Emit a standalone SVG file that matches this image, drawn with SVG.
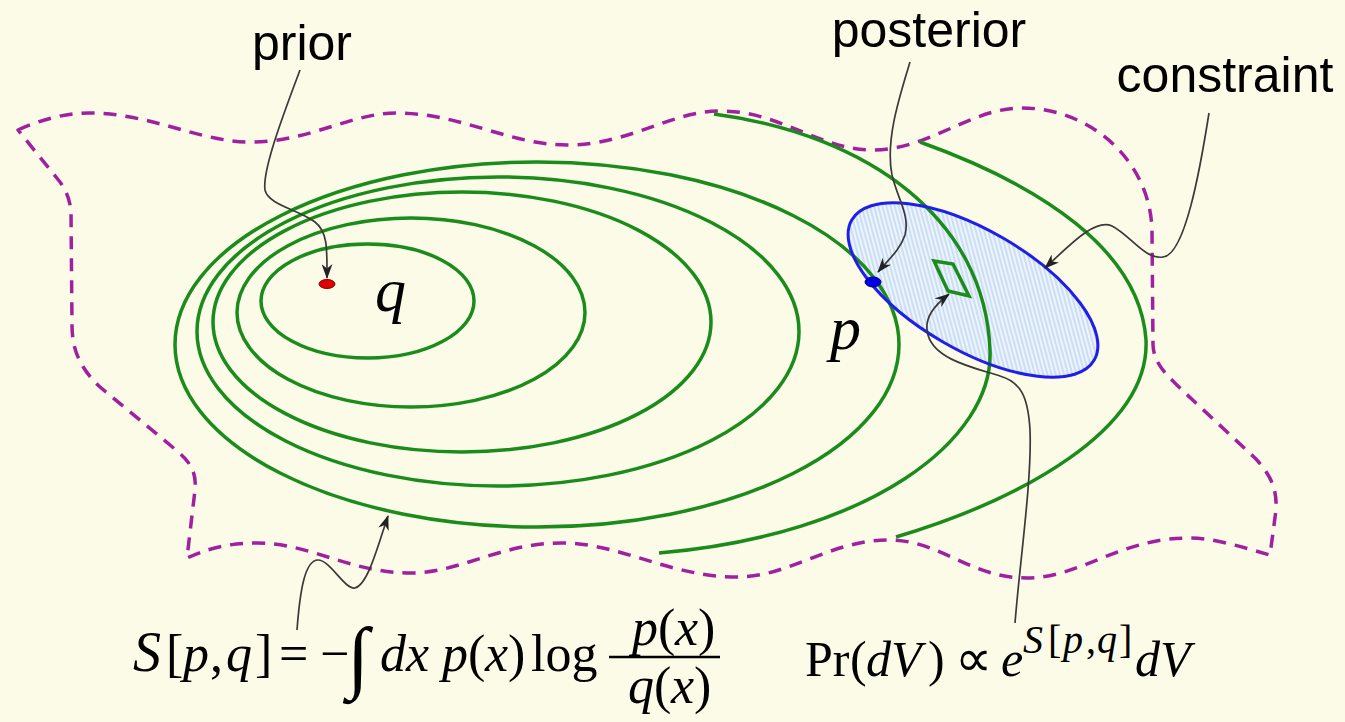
<svg xmlns="http://www.w3.org/2000/svg" width="1345" height="722" viewBox="0 0 1345 722">
<defs>
<style>
.bg{fill:#fbfbe8}
.bound{fill:none;stroke:#a020a0;stroke-width:3.5;stroke-dasharray:13 9;stroke-linejoin:round}
.cont{fill:none;stroke:#1b8c1b;stroke-width:3.5}
.conn{fill:none;stroke:#3a3a3a;stroke-width:1.7;marker-end:url(#arr)}
.lbl{font-family:"Liberation Sans",Arial,sans-serif;font-size:50px;fill:#000}
.math{font-family:"Liberation Serif","Times New Roman",serif;fill:#000}
.it{font-style:italic}
</style>
<marker id="arr" viewBox="0 0 15 11" refX="14" refY="5.5" markerWidth="15" markerHeight="11" orient="auto" markerUnits="userSpaceOnUse">
<path d="M0,0 L15,5.5 L0,11 L4.5,5.5 Z" fill="#222"/>
</marker>
<pattern id="hatch" width="4" height="4" patternUnits="userSpaceOnUse" patternTransform="rotate(-45)">
<rect width="4" height="4" fill="#edf4fc"/>
<line x1="1" y1="0" x2="1" y2="4" stroke="#bcd5f2" stroke-width="1.4"/>
</pattern>
</defs>
<rect class="bg" x="0" y="0" width="1345" height="722"/>

<g id="boundary">
<path class="bound" d="M18,130 C40,120 65,113 89,113 C150,113 200,142 250,142 C310,142 350,113 397,113 C460,113 510,145 567,145 C630,145 670,111 721,111 C780,111 820,150 872,150 C930,150 970,108 1022,108 C1090,108 1150,160 1152,230 L1153,345 C1154,365 1168,376 1182,390 L1255,458 C1272,476 1277,490 1276,510 L1270,555 C1245,548 1215,538 1189,538 C1120,538 1080,578 1027,578 C970,578 940,540 889,540 C830,540 790,577 737,577 C670,577 620,543 562,543 C500,543 460,573 411,573 C350,573 310,543 257,543 C225,543 205,550 187,558 L195,490 C197,470 188,460 176,450 L100,387 C80,368 72,350 72,325 L71,212 C70,200 67,192 60,182 Z"/>
</g>

<g id="constraint-fill">
<ellipse cx="973" cy="290" rx="140" ry="60" transform="rotate(30 973 290)" fill="url(#hatch)"/>
</g>

<g id="contours">
<ellipse class="cont" cx="367.5" cy="301" rx="106.5" ry="57"/>
<ellipse class="cont" cx="411" cy="312.5" rx="174" ry="94.5"/>
<ellipse class="cont" cx="462" cy="322" rx="249" ry="130"/>
<ellipse class="cont" cx="498" cy="331.5" rx="301" ry="154.5"/>
<ellipse class="cont" cx="537" cy="344.5" rx="362" ry="182.5"/>
<path class="cont" d="M714,114 C870,135 985,220 990,350 C994,440 870,535 659,553"/>
<path class="cont" d="M920,142 C1040,185 1140,250 1146,340 C1150,430 1020,500 896,537"/>
</g>

<g id="constraint">
<ellipse cx="973" cy="290" rx="140" ry="60" transform="rotate(30 973 290)" fill="none" stroke="#1f1fe8" stroke-width="3"/>
</g>

<g id="dV">
<path d="M934,261 L953,264 L969,296 L948,291 Z" fill="none" stroke="#1b8c1b" stroke-width="3.5" stroke-linejoin="miter"/>
</g>

<g id="prior">
<ellipse cx="327" cy="284" rx="8" ry="4.5" fill="#e00000" stroke="#900000" stroke-width="1"/>
<text class="lbl" x="302" y="60" text-anchor="middle">prior</text>
</g>

<g id="posterior">
<ellipse cx="873" cy="282" rx="8" ry="5" fill="#0000e0" stroke="#000090" stroke-width="1"/>
<text class="lbl" x="929" y="47" text-anchor="middle">posterior</text>
</g>

<g id="constraint-label">
<text class="lbl" x="1225" y="92" text-anchor="middle">constraint</text>
</g>

<g id="q-label">
<text class="math it" x="375" y="311" font-size="62">q</text>
</g>
<g id="p-label">
<text class="math it" x="830" y="349" font-size="62">p</text>
</g>

<g id="connectors">
<path class="conn" d="M300,70 C285,110 262,170 265,190 C268,205 300,210 315,222 C328,232 327,250 327,278"/>
<path class="conn" d="M910,62 C900,95 885,140 892,175 C898,200 910,215 905,235 C900,250 888,260 878,272"/>
<path class="conn" d="M1209,113 C1200,170 1185,255 1163,257 C1145,260 1130,235 1112,226 C1095,218 1070,245 1045,268"/>
<path class="conn" d="M297,630 C300,590 305,560 318,560 C330,560 345,590 355,588 C368,585 378,545 388,516"/>
<path class="conn" d="M1015,623 C1020,560 1032,480 1030,430 C1028,395 1020,382 1000,376 C975,368 935,360 928,335 C923,318 935,305 949,294"/>
</g>

<g id="formula-entropy" class="math" font-size="52">
<text y="671"><tspan class="it" x="133" font-size="56">S</tspan><tspan x="166">[</tspan><tspan class="it" x="183">p</tspan><tspan x="210">,</tspan><tspan class="it" x="226">q</tspan><tspan x="255">]</tspan><tspan x="279">=</tspan><tspan x="320">−</tspan></text>
<text x="347" y="683" font-size="80">∫</text>
<text y="671"><tspan class="it" x="380">dx</tspan><tspan class="it" x="442">p</tspan><tspan x="468">(</tspan><tspan class="it" x="485">x</tspan><tspan x="508">)</tspan><tspan x="531">log</tspan></text>
<line x1="609" y1="657" x2="720" y2="657" stroke="#000" stroke-width="2.5"/>
<text y="645"><tspan class="it" x="632">p</tspan><tspan x="658">(</tspan><tspan class="it" x="675">x</tspan><tspan x="698">)</tspan></text>
<text y="703"><tspan class="it" x="628">q</tspan><tspan x="654">(</tspan><tspan class="it" x="671">x</tspan><tspan x="694">)</tspan></text>
</g>

<g id="formula-prob" class="math" font-size="50">
<text y="676"><tspan x="805">Pr</tspan><tspan x="850">(</tspan><tspan class="it" x="866">dV</tspan><tspan x="928">)</tspan><tspan x="955" font-size="52">∝</tspan><tspan class="it" x="1001">e</tspan></text>
<text y="653" font-size="40"><tspan class="it" x="1023">S</tspan><tspan x="1048">[</tspan><tspan class="it" x="1063">p</tspan><tspan x="1086">,</tspan><tspan class="it" x="1097">q</tspan><tspan x="1119">]</tspan></text>
<text y="676"><tspan class="it" x="1135">dV</tspan></text>
</g>
</svg>
